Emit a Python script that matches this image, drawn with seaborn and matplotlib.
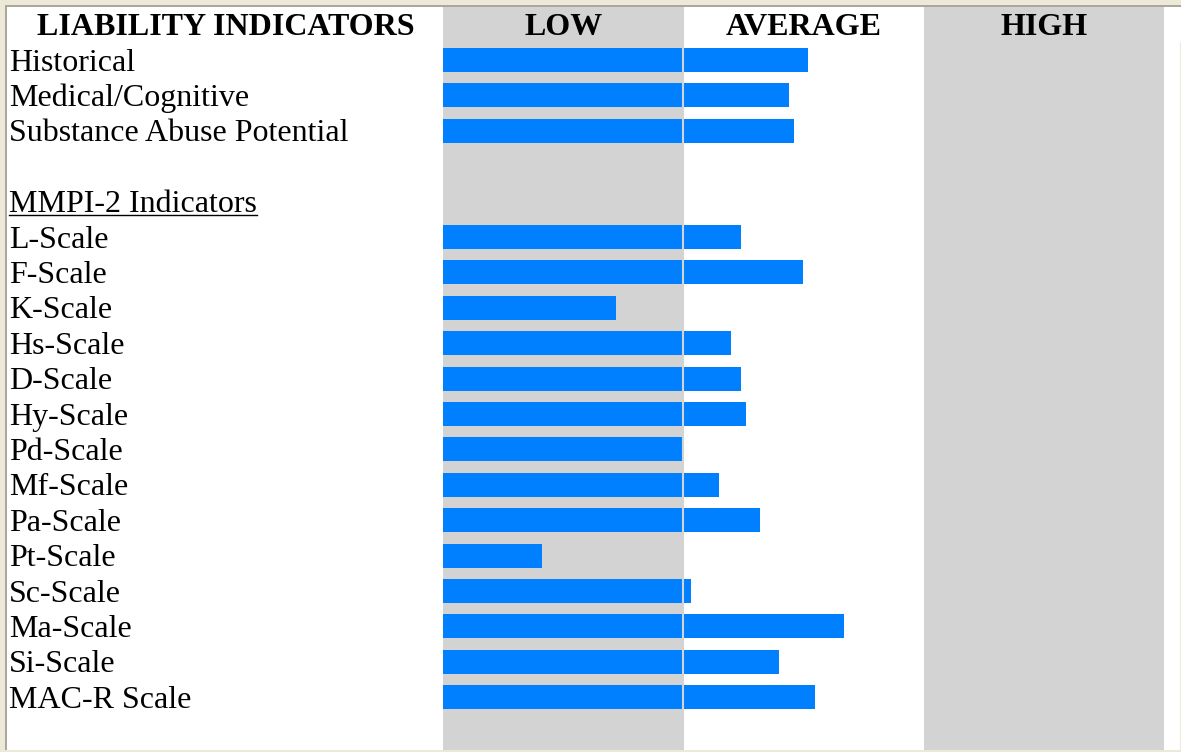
import matplotlib
matplotlib.use("Agg")
import matplotlib.pyplot as plt
import seaborn as sns
import numpy as np
import pandas as pd
from matplotlib.lines import Line2D
from matplotlib.patches import Rectangle
import matplotlib.transforms as mtransforms

# ---------------- data ----------------
columns = ["LOW", "AVERAGE", "HIGH"]
header = "LIABILITY INDICATORS"
section_label = "MMPI-2 Indicators"
liability_labels = ["Historical", "Medical/Cognitive", "Substance Abuse Potential"]
liability_values = [1.52, 1.44, 1.46]
mmpi_labels = ["L-Scale", "F-Scale", "K-Scale", "Hs-Scale", "D-Scale", "Hy-Scale",
               "Pd-Scale", "Mf-Scale", "Pa-Scale", "Pt-Scale", "Sc-Scale",
               "Ma-Scale", "Si-Scale", "MAC-R Scale"]
mmpi_values = [1.24, 1.50, 0.72, 1.20, 1.24, 1.26, 1.00, 1.15, 1.32, 0.41, 1.03,
               1.67, 1.40, 1.55]

# ---------------- layout of rows ----------------
rows = []  # (row index, label, value)
r = 1
for lab, v in zip(liability_labels, liability_values):
    rows.append((r, lab, v)); r += 1
r += 1  # blank row
section_row = r; r += 1
for lab, v in zip(mmpi_labels, mmpi_values):
    rows.append((r, lab, v)); r += 1

df = pd.DataFrame(rows, columns=["row", "label", "value"])

W, H = 1181, 752
fig = plt.figure(figsize=(W / 100, H / 100), dpi=100)
fig.patch.set_facecolor("white")

FRAME = "#ECE9D8"
FRAME_LINE = "#ACA899"

ax_left, ax_top, ax_right, ax_bottom = 8, 7, 1181, 750
ax = fig.add_axes([ax_left / W, 1 - ax_bottom / H,
                   (ax_right - ax_left) / W, (ax_bottom - ax_top) / H])
ax.set_facecolor("white")

px_per_unit = 240.3
x0_px = 443
ax.set_xlim((ax_left - x0_px) / px_per_unit, (ax_right - x0_px) / px_per_unit)
row_h = 35.4
row0_px = 24.6
ax.set_ylim((ax_bottom - row0_px) / row_h, (ax_top - row0_px) / row_h)

# background bands
GRAY = "#D3D3D3"
ax.axvspan(0, 1, color=GRAY, lw=0, zorder=0)
ax.axvspan(2, 3, color=GRAY, lw=0, zorder=0)

BLUE = "#0080FF"
sns.barplot(data=df, x="value", y="row", orient="h", native_scale=True,
            width=0.68, color=BLUE, saturation=1, ax=ax, zorder=2,
            linewidth=0, errorbar=None)
# gap between LOW and AVERAGE segments (band colour shows through)
ax.axvline(1, color=GRAY, lw=1.5, zorder=3)

ax.set_axis_off()

SERIF = ["Liberation Serif", "DejaVu Serif"]
FS = 23
tr = mtransforms.blended_transform_factory(fig.transFigure, ax.transData)
label_x = 9 / W
for _, row in df.iterrows():
    ax.text(label_x, row["row"] + 0.30, row["label"], transform=tr,
            family=SERIF, fontsize=FS, ha="left", va="baseline", color="black")

sec = ax.text(label_x, section_row + 0.30, section_label, transform=tr,
              family=SERIF, fontsize=FS, ha="left", va="baseline", color="black")

# headers
ax.text(((ax_left + x0_px) / 2 - ax_left) / (ax_right - ax_left), 0.30, header,
        transform=mtransforms.blended_transform_factory(ax.transAxes, ax.transData),
        family=SERIF, fontsize=FS, fontweight="bold", ha="center", va="baseline")
for i, c in enumerate(columns):
    ax.text(i + 0.5, 0.30, c, family=SERIF, fontsize=FS, fontweight="bold",
            ha="center", va="baseline")

# window frame
fig.patches.append(Rectangle((0, 1 - 5 / H), 1, 5 / H, transform=fig.transFigure,
                             color=FRAME, lw=0, zorder=-1))
fig.patches.append(Rectangle((0, 0), 5 / W, 1, transform=fig.transFigure,
                             color=FRAME, lw=0, zorder=-1))
fig.patches.append(Rectangle((5 / W, 1 - 7 / H), 1, 2 / H, transform=fig.transFigure,
                             color=FRAME_LINE, lw=0, zorder=-1))
fig.patches.append(Rectangle((5 / W, 0), 2 / W, 1 - 5 / H, transform=fig.transFigure,
                             color=FRAME_LINE, lw=0, zorder=-1))
fig.patches.append(Rectangle((0, 0), 1, 2 / H, transform=fig.transFigure,
                             color=FRAME, lw=0, zorder=5))
fig.add_artist(Line2D([1179.5 / W, 1179.5 / W], [2 / H, 1 - 42 / H],
                      transform=fig.transFigure, color="#EFEBDA", lw=0.8))

# underline under section label
fig.canvas.draw()
bb = sec.get_window_extent()
base_disp = ax.transData.transform((0, section_row + 0.30))[1]
uy = base_disp - 3
fig.add_artist(Line2D([bb.x0, bb.x1], [uy, uy], transform=None, color="black", lw=1.0))

fig.savefig("out.png", dpi=100, facecolor=fig.get_facecolor())
